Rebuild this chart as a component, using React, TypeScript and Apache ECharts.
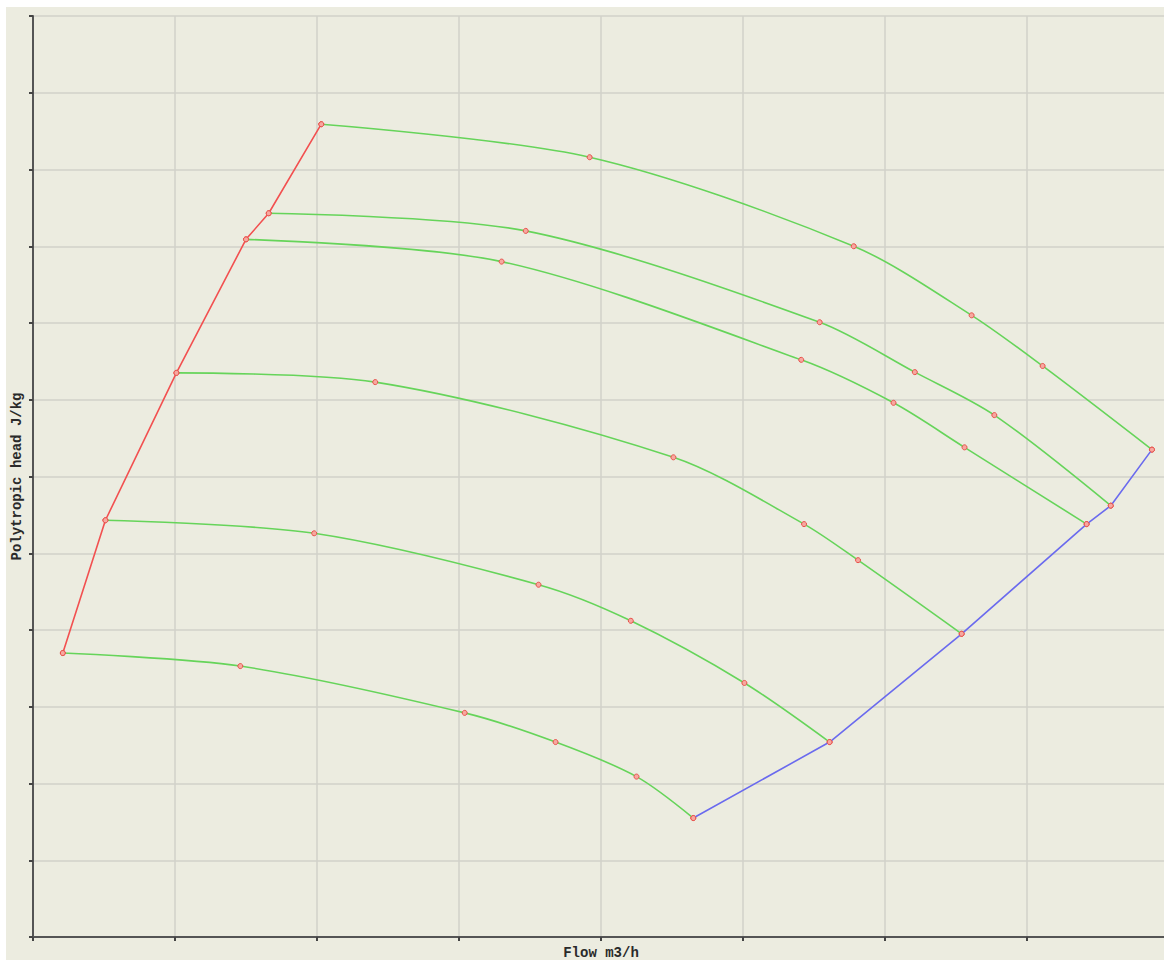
import React, { useEffect, useRef } from "react";
import * as echarts from "echarts";

// Compressor map: flow (x) vs polytropic head (y), arbitrary scaled units.
const surgeLine: [number, number][] = [
  [0.21, 3.7], [0.51, 5.43], [1.01, 7.35], [1.5, 9.09], [1.66, 9.43], [2.03, 10.59],
];

const chokeLine: [number, number][] = [
  [4.65, 1.55], [5.61, 2.54], [6.54, 3.95], [7.42, 5.38], [7.59, 5.62], [7.88, 6.35],
];

const speed1: [number, number][] = [
  [0.21, 3.7], [1.46, 3.53], [3.04, 2.92], [3.68, 2.54], [4.25, 2.09], [4.65, 1.55],
];
const speed2: [number, number][] = [
  [0.51, 5.43], [1.98, 5.26], [3.56, 4.59], [4.21, 4.12], [5.01, 3.31], [5.61, 2.54],
];
const speed3: [number, number][] = [
  [1.01, 7.35], [2.41, 7.23], [4.51, 6.25], [5.43, 5.38], [5.81, 4.91], [6.54, 3.95],
];
const speed4: [number, number][] = [
  [1.5, 9.09], [3.3, 8.8], [5.41, 7.52], [6.06, 6.96], [6.56, 6.38], [7.42, 5.38],
];
const speed5: [number, number][] = [
  [1.66, 9.43], [3.47, 9.2], [5.54, 8.01], [6.21, 7.36], [6.77, 6.8], [7.59, 5.62],
];
const speed6: [number, number][] = [
  [2.03, 10.59], [3.92, 10.16], [5.78, 9.0], [6.61, 8.1], [7.11, 7.44], [7.88, 6.35],
];

const speedLines = [speed1, speed2, speed3, speed4, speed5, speed6];

const X_MAX = 8;
const Y_MAX = 12;

const marker = {
  symbol: "circle",
  symbolSize: 5,
  itemStyle: { color: "#F7A8A0", borderColor: "#E8504A", borderWidth: 1 },
};

const axisNameStyle = {
  fontFamily: "Liberation Mono",
  fontWeight: "bold",
  fontSize: 14,
  color: "#2a2a2a",
};

export default function App() {
  const ref = useRef<HTMLDivElement>(null);

  useEffect(() => {
    if (!ref.current) return;
    const chart = echarts.init(ref.current, null, { renderer: "svg" });

    const greenSeries = speedLines.map((data, i) => ({
      name: `speed-${i + 1}`,
      type: "line",
      data,
      smooth: 0.3,
      lineStyle: { color: "#66D45A", width: 1.6 },
      ...marker,
      z: 2,
    }));

    chart.setOption({
      animation: false,
      backgroundColor: "#ECECE0",
      grid: {
        left: 27,
        right: -5,
        top: 9,
        bottom: 23,
        containLabel: false,
        outerBoundsMode: "none",
      },
      xAxis: {
        type: "value",
        min: 0,
        max: X_MAX,
        interval: 1,
        name: "Flow m3/h",
        nameLocation: "middle",
        nameGap: 9,
        nameTextStyle: { ...axisNameStyle, verticalAlign: "top" },
        axisLine: { show: true, lineStyle: { color: "#555", width: 2 } },
        axisTick: { show: true, inside: false, length: 4, lineStyle: { color: "#444", width: 2 } },
        axisLabel: { show: false },
        splitLine: { show: true, lineStyle: { color: "#D2D2CA", width: 1.5 } },
      },
      yAxis: {
        type: "value",
        min: 0,
        max: Y_MAX,
        interval: 1,
        name: "Polytropic head J/kg",
        nameLocation: "middle",
        nameGap: 9,
        nameTextStyle: axisNameStyle,
        axisLine: { show: true, lineStyle: { color: "#555", width: 2 } },
        axisTick: { show: true, inside: false, length: 4, lineStyle: { color: "#444", width: 2 } },
        axisLabel: { show: false },
        splitLine: { show: true, lineStyle: { color: "#D2D2CA", width: 1.5 } },
      },
      series: [
        ...greenSeries,
        {
          name: "surge",
          type: "line",
          data: surgeLine,
          lineStyle: { color: "#F25050", width: 1.6 },
          ...marker,
          z: 3,
        },
        {
          name: "choke",
          type: "line",
          data: chokeLine,
          lineStyle: { color: "#6A6AEE", width: 1.6 },
          ...marker,
          z: 3,
        },
      ],
    });

    return () => chart.dispose();
  }, []);

  return (
    <div
      ref={ref}
      style={{ position: "absolute", left: 6, top: 7, width: 1158, height: 953 }}
    />
  );
}
